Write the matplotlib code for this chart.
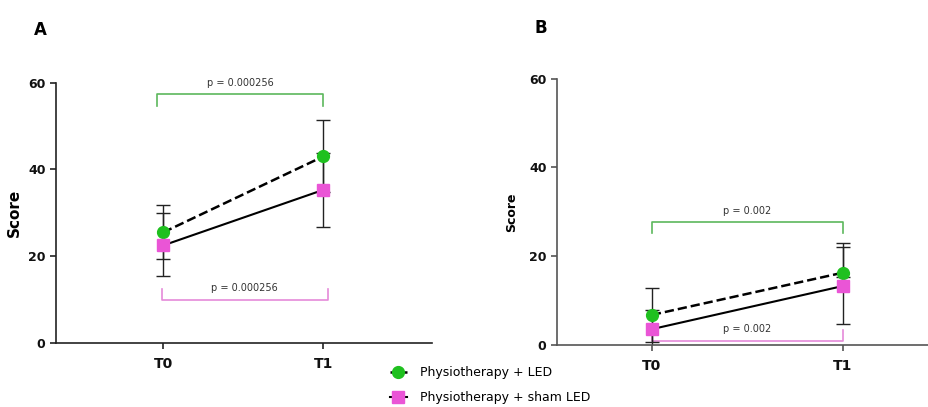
import numpy as np
import matplotlib.pyplot as plt

timepoints = ['T0', 'T1']

# panel A  (error bars: [lower, upper] per time point)
led_a = [25.5, 43.0]
led_a_err = [[6.2, 8.3], [6.2, 8.3]]
sham_a = [22.5, 35.3]
sham_a_err = [[7.0, 8.6], [7.4, 8.6]]

# panel B
led_b = [6.8, 16.3]
led_b_err = [[6.0, 1.0], [6.0, 6.6]]
sham_b = [3.6, 13.3]
sham_b_err = [[4.4, 8.6], [4.4, 8.7]]

p_a = ['p = 0.000256', 'p = 0.000256']
p_b = ['p = 0.002', 'p = 0.002']

GREEN = '#1fc01f'
PINK = '#ea55d6'
GREEN_LINE = '#5cb85c'
PINK_LINE = '#e58ad9'

fig = plt.figure(figsize=(9.29, 4.07), dpi=100)
axA = fig.add_axes([0.0603, 0.157, 0.405, 0.640])
axB = fig.add_axes([0.5996, 0.152, 0.400, 0.655])


def panel(ax, led, led_err, sham, sham_err, xlim, spine_col, ylab_size):
    x = np.arange(len(timepoints))
    ax.errorbar(x, led, yerr=led_err, fmt='none', ecolor='#222222',
                elinewidth=1, capsize=5, capthick=1, zorder=2)
    ax.errorbar(x, sham, yerr=sham_err, fmt='none', ecolor='#222222',
                elinewidth=1, capsize=5, capthick=1, zorder=2)
    ax.plot(x, led, color='black', ls='--', lw=1.8, marker='o', ms=8.5,
            mfc=GREEN, mec=GREEN, zorder=3, label='Physiotherapy + LED')
    ax.plot(x, sham, color='black', ls='-', lw=1.5, marker='s', ms=8,
            mfc=PINK, mec=PINK, zorder=3, label='Physiotherapy + sham LED')
    ax.set_xlim(*xlim)
    ax.set_ylim(0, 60)
    ax.set_yticks([0, 20, 40, 60])
    ax.set_xticks(x)
    ax.set_xticklabels(timepoints, fontsize=10, fontweight='bold')
    for t in ax.get_yticklabels():
        t.set_fontweight('bold')
        t.set_fontsize(9)
    ax.set_ylabel('Score', fontsize=ylab_size, fontweight='bold')
    for s in ['top', 'right']:
        ax.spines[s].set_visible(False)
    for s in ['left', 'bottom']:
        ax.spines[s].set_color(spine_col)
        ax.spines[s].set_linewidth(1.2)
    ax.tick_params(axis='both', colors=spine_col, width=1.2, length=4,
                   labelcolor='#111111')
    ax.tick_params(axis='x', pad=6)


def bracket(ax, x0, x1, y, drop, color, text, ty):
    ax.plot([x0, x0, x1, x1], [y + drop, y, y, y + drop], color=color,
            lw=1.2, zorder=1)
    ax.text((x0 + x1) / 2, ty, text, ha='center', va='center', fontsize=7,
            color='#333333')


panel(axA, led_a, led_a_err, sham_a, sham_a_err, (-0.669, 1.68), '#222222', 11)
bracket(axA, -0.04, 1.0, 57.4, -2.9, GREEN_LINE, p_a[0], 60.0)
bracket(axA, -0.01, 1.03, 9.9, 2.5, PINK_LINE, p_a[1], 12.6)

panel(axB, led_b, led_b_err, sham_b, sham_b_err, (-0.497, 1.45), '#555555', 9)
bracket(axB, 0.0, 1.0, 27.8, -2.6, GREEN_LINE, p_b[0], 30.2)
bracket(axB, 0.0, 1.0, 1.0, 2.4, PINK_LINE, p_b[1], 3.6)
axA.yaxis.set_label_coords(-0.09, 0.5)
axB.yaxis.set_label_coords(-0.105, 0.5)

fig.text(0.036, 0.915, 'A', fontsize=12, fontweight='bold')
fig.text(0.575, 0.92, 'B', fontsize=12, fontweight='bold')

handles, labels = axA.get_legend_handles_labels()
fig.legend(handles, labels, loc='upper left', bbox_to_anchor=(0.414, 0.112),
           frameon=False, fontsize=9, handlelength=1.4, handletextpad=1.0,
           labelspacing=0.95, borderaxespad=0)

fig.savefig('out.png', dpi=100)
